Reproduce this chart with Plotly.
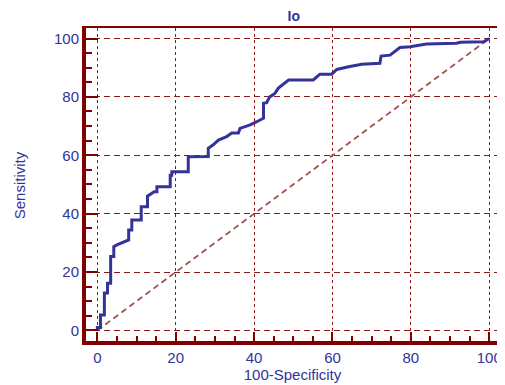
import plotly.graph_objects as go

title_text = "Io"
x_title = "100-Specificity"
y_title = "Sensitivity"

fpr = [0, 0, 0.8, 0.8, 1.8, 1.8, 2.6, 2.6, 3.4, 3.4, 4.2, 4.2, 5, 8, 8, 8.8, 8.8,
       11.2, 11.2, 12.8, 12.8, 14.5, 15.2, 15.2, 18.6, 18.6, 19.0, 19.0, 20.3,
       23.2, 23.2, 28.3, 28.3, 29.5, 30.9, 33, 34.3, 36, 36.4, 39, 40.7, 42.4,
       42.4, 43.2, 44, 45.3, 46.2, 47.5, 48.8, 55.1, 56.8, 59.8, 61.1, 64.1,
       67.5, 72.1, 72.4, 74.7, 76.4, 77.2, 79.8, 83.2, 84, 91.7, 92.6, 98.6, 100]
tpr = [0, 1, 1, 5.3, 5.3, 12.8, 12.8, 16.2, 16.2, 25.3, 25.3, 28.7, 29.3, 31,
       34.4, 34.4, 37.8, 37.8, 42.4, 42.4, 46, 47.5, 47.5, 49.2, 49.2, 53.2,
       53.2, 54.4, 54.4, 54.4, 59.5, 59.6, 62.4, 63.5, 65.2, 66.4, 67.6, 67.6,
       69.2, 70.4, 71.5, 72.7, 77.8, 78, 80, 81.2, 83, 84.5, 85.8, 85.8, 87.8,
       87.8, 89.4, 90.3, 91.2, 91.5, 94, 94.3, 96, 96.9, 97.2, 97.8, 98.1,
       98.4, 98.7, 98.9, 100]
diag = [0, 100]
tick_vals = [0, 20, 40, 60, 80, 100]
tick_text = ["0", "20", "40", "60", "80", "100"]

frame = "#800000"
grid = "#8b1a1a"
blue = "#333399"
font_family = "Liberation Sans, Arial"

fig = go.Figure()
fig.add_trace(go.Scatter(x=diag, y=diag, mode="lines",
                         line=dict(color="#a0524d", width=1.8, dash="6px,4px"),
                         hoverinfo="skip", showlegend=False))
fig.add_trace(go.Scatter(x=fpr, y=tpr, mode="lines",
                         line=dict(color=blue, width=3),
                         showlegend=False))

axis_common = dict(
    tickvals=tick_vals, ticktext=tick_text,
    showline=True, linecolor=frame, linewidth=2, mirror=True,
    ticks="inside", tickcolor=frame, tickwidth=2,
    showgrid=True, gridcolor=grid, gridwidth=1,
    zeroline=False, automargin=False,
    tickfont=dict(family=font_family, size=15, color=blue),
)

fig.update_xaxes(**axis_common, range=[-3.4, 103.0], ticklen=11, griddash="3px,3px",
                 minor=dict(dtick=5, tick0=0, ticks="inside", ticklen=7,
                            tickwidth=2, tickcolor=frame, showgrid=False),
                 title=dict(text=x_title, standoff=4,
                            font=dict(family=font_family, size=15, color=blue)))
fig.update_yaxes(**axis_common, range=[-4.3, 103.6], ticklen=14, griddash="6px,4px",
                 minor=dict(dtick=5, tick0=0, ticks="inside", ticklen=8,
                            tickwidth=2, tickcolor=frame, showgrid=False),
                 title=dict(text=y_title, standoff=25,
                            font=dict(family=font_family, size=15, color=blue)))

fig.add_shape(type="line", xref="paper", yref="paper", x0=0, x1=0, y0=0, y1=1,
              line=dict(color=frame, width=4))
fig.add_shape(type="line", xref="paper", yref="paper", x0=0, x1=1, y0=0, y1=0,
              line=dict(color=frame, width=4))

# page body has an 8px default margin, so the figure is shrunk by 8px
fig.update_layout(
    width=497, height=377,
    margin=dict(l=76, r=4, t=20, b=42),
    paper_bgcolor="white", plot_bgcolor="white",
    title=dict(text="<b>" + title_text + "</b>", x=0.575, xanchor="center",
               y=0.979, yanchor="middle",
               font=dict(family=font_family, size=14, color=blue)),
)

fig.write_html("out.html")
